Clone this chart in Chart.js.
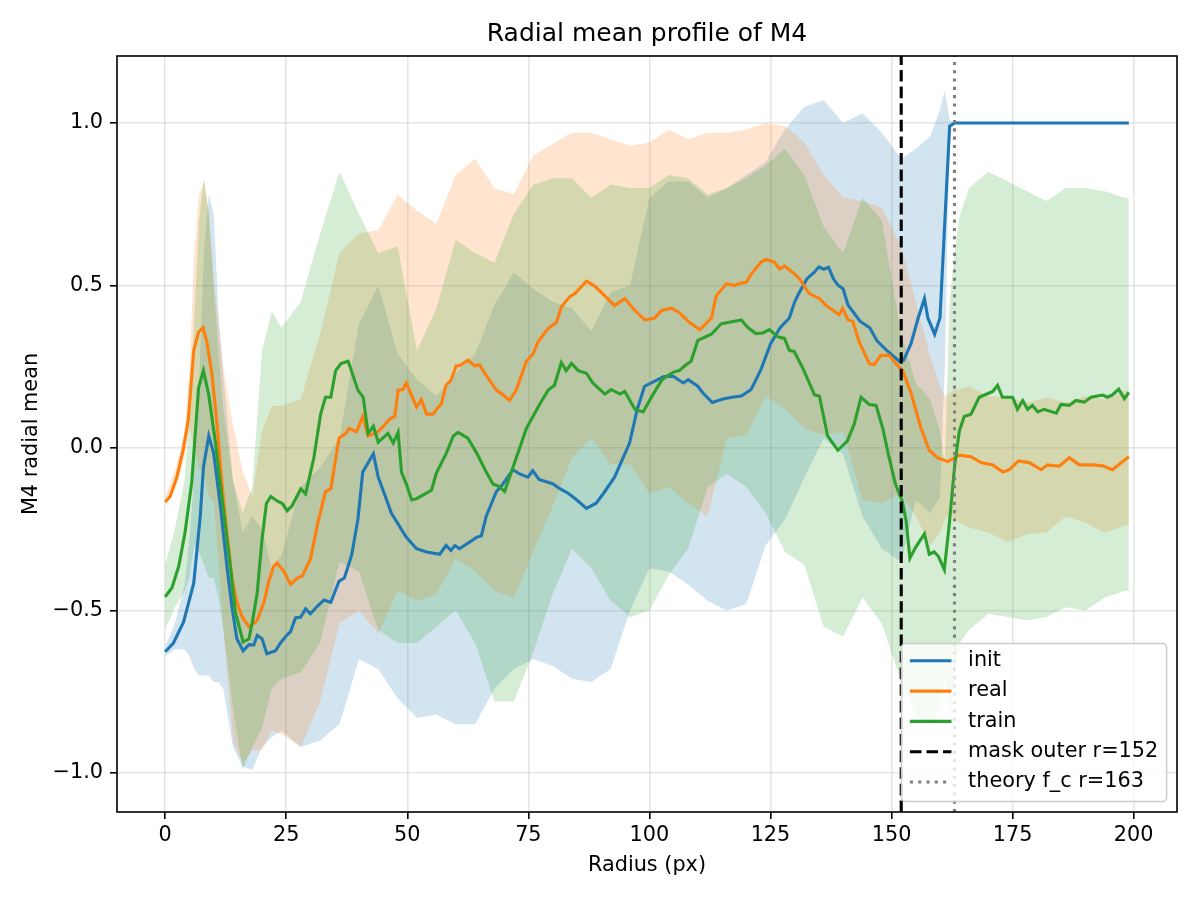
<!DOCTYPE html>
<html>
<head>
<meta charset="utf-8">
<title>Radial mean profile of M4</title>
<script src="https://cdn.jsdelivr.net/npm/chart.js@4.4.0/dist/chart.umd.min.js"></script>
<style>
  html, body { margin: 0; padding: 0; background: #fff; }
  #wrap { width: 1200px; height: 900px; }
</style>
</head>
<body>
<div id="wrap"><canvas id="radialChart" width="1200" height="900"></canvas></div>
<script>
// Datos
const chartTitle = 'Radial mean profile of M4';
const xTicks = [0, 25, 50, 75, 100, 125, 150, 175, 200];
const yTicks = [-1.0, -0.5, 0.0, 0.5, 1.0];
const xMin = -9.95, xMax = 208.95;
const yMin = -1.12, yMax = 1.206;
const maskRadius = 152;
const theoryRadius = 163;

// init (media)
const blueRadius = [0,1.7,3.8,5.9,7.25,7.9,9,10,11.4,12.8,13.8,14.8,16.1,17.3,18.3,19,20,21,22.8,23.8,25.2,25.9,26.9,28,29,30,31.4,32.8,34.2,35.9,37,38.5,39.8,40.8,43,44,45,46.7,49.8,51.9,54,56.7,58,59,59.8,60.8,64.3,65.3,66.3,68.4,69.8,71.8,73.2,74.9,75.9,77.2,80,81.6,83.3,85,87,89,90.5,92.8,95.9,97.5,99,101,103,105,107,108,110,111,113,115,117,119,121,123,125,127,128.9,130,131,132.5,134,135,136,137,138,139,140,141,142,143.5,145.5,147,149,151.6,152.5,154,155.5,156.8,157.5,158.9,160,162,163,199];
const blueMean = [-0.627,-0.6,-0.535,-0.416,-0.208,-0.06,0.037,-0.015,-0.178,-0.371,-0.49,-0.587,-0.624,-0.605,-0.606,-0.577,-0.587,-0.633,-0.624,-0.6,-0.575,-0.565,-0.523,-0.52,-0.495,-0.51,-0.487,-0.468,-0.475,-0.41,-0.4,-0.33,-0.22,-0.074,-0.018,-0.09,-0.13,-0.2,-0.275,-0.31,-0.32,-0.327,-0.3,-0.315,-0.3,-0.31,-0.275,-0.27,-0.21,-0.134,-0.11,-0.067,-0.08,-0.09,-0.07,-0.097,-0.11,-0.126,-0.14,-0.16,-0.186,-0.17,-0.14,-0.09,0.015,0.12,0.19,0.205,0.22,0.22,0.2,0.21,0.19,0.17,0.14,0.15,0.156,0.16,0.18,0.24,0.32,0.37,0.4,0.45,0.48,0.52,0.54,0.557,0.55,0.556,0.52,0.5,0.49,0.44,0.42,0.39,0.37,0.33,0.3,0.267,0.27,0.32,0.4,0.46,0.4,0.35,0.4,0.99,1.0,1.0];

// real (media)
const orangeRadius = [0,1,2.4,3.8,4.8,5.9,6.9,7.8,8.6,9.7,10.7,11.7,12.8,13.8,14.8,15.9,17.3,18.3,19,20.4,21.4,22.4,23.1,24.5,25.9,27.3,28.3,30,31.4,33.1,34.2,35.9,37.3,38,39.5,40.8,41.9,44,46.4,47.4,48.1,49.1,49.8,51.9,52.9,54,55.3,56.4,57,58,59,60.1,60.8,62.5,63.9,64.9,66.3,68.4,69.8,71.1,72.5,74.6,76,77,79.1,80.8,81.8,83.5,84.6,87,88.7,90.8,92.8,94.9,97,99,101.1,102.5,104.5,106.2,108.3,110.4,112.8,113.8,115.9,117.6,119,120,121,123.1,124.1,125.8,126.9,127.9,130,131,133,135.1,136.5,139.2,139.9,141,142,143.3,145.4,146.4,147.8,149.5,150.9,152.3,154,156.1,157.8,159.5,161.6,164,166.4,168.5,170.9,173,174.3,176.2,178.4,180.9,182.2,184.6,186.7,188.8,191.5,193.6,195.6,199];
const orangeMean = [-0.166,-0.15,-0.09,0.0,0.09,0.3,0.357,0.37,0.327,0.223,0.074,-0.104,-0.267,-0.4,-0.475,-0.52,-0.55,-0.54,-0.53,-0.475,-0.41,-0.364,-0.354,-0.379,-0.42,-0.4,-0.394,-0.342,-0.238,-0.134,-0.126,0.03,0.045,0.06,0.05,0.097,0.037,0.05,0.089,0.097,0.178,0.18,0.2,0.126,0.149,0.104,0.104,0.126,0.134,0.193,0.208,0.253,0.253,0.27,0.253,0.256,0.223,0.178,0.163,0.146,0.178,0.267,0.29,0.327,0.368,0.386,0.434,0.465,0.475,0.513,0.498,0.468,0.438,0.46,0.423,0.394,0.4,0.423,0.43,0.416,0.386,0.364,0.4,0.468,0.505,0.5,0.508,0.51,0.535,0.572,0.58,0.572,0.55,0.56,0.535,0.52,0.475,0.46,0.438,0.41,0.43,0.394,0.39,0.327,0.26,0.256,0.285,0.285,0.26,0.238,0.17,0.06,-0.007,-0.03,-0.042,-0.022,-0.027,-0.045,-0.052,-0.074,-0.067,-0.04,-0.045,-0.067,-0.052,-0.056,-0.03,-0.052,-0.052,-0.055,-0.067,-0.027];

// train (media)
const greenRadius = [0,1.4,2.8,4.1,5.5,6.9,7.9,9,10.4,11.7,13.5,14.5,16.1,17.3,18,19,20,20.9,21.8,23.1,24.2,25.2,26.2,28,29,30.7,32.1,33.1,34.2,35.2,36.3,37.8,39.8,40.9,41.9,43,44,46,47.1,48.1,48.8,49.8,50.9,51.9,55,56,58.1,59.5,60.5,62.5,64.3,66.3,67.7,69,70.1,71.5,72.5,74.6,77.3,79.1,80.4,81.8,82.8,83.9,85.3,87,88.3,90.8,92.1,93.9,94.9,97,98.7,100.4,102.5,103.8,105.2,106.2,107.3,108.6,110,112.8,114.8,116.2,119,120.3,122,123.4,124.8,126.5,127.9,128.9,129.9,131.7,134.1,135.1,136.8,138.9,140.9,142.3,143.7,145.4,146.8,148.2,149.5,150.8,152.2,153,153.8,155,156.8,157.8,158.8,159.7,160.9,161.9,163,164,165,166.4,168.1,170.9,171.9,172.9,175,176,177.1,178.1,179.1,180.2,181.5,184,185,186.7,188.1,189.8,191.2,193.6,194.6,195.6,196.9,198.1,199];
const greenMean = [-0.458,-0.43,-0.364,-0.26,-0.104,0.186,0.238,0.163,0.015,-0.149,-0.371,-0.505,-0.597,-0.587,-0.535,-0.446,-0.282,-0.171,-0.149,-0.163,-0.171,-0.193,-0.178,-0.126,-0.141,-0.03,0.104,0.156,0.156,0.238,0.26,0.267,0.178,0.156,0.045,0.067,0.018,0.045,0.015,0.048,-0.074,-0.111,-0.16,-0.156,-0.13,-0.077,-0.015,0.037,0.048,0.03,-0.015,-0.074,-0.111,-0.119,-0.134,-0.074,-0.03,0.06,0.134,0.178,0.193,0.263,0.238,0.26,0.238,0.23,0.2,0.166,0.18,0.166,0.174,0.119,0.111,0.156,0.208,0.223,0.235,0.238,0.253,0.267,0.331,0.35,0.382,0.386,0.394,0.371,0.352,0.354,0.364,0.342,0.337,0.3,0.297,0.245,0.163,0.16,0.037,-0.007,0.022,0.074,0.156,0.134,0.131,0.06,-0.03,-0.111,-0.163,-0.223,-0.339,-0.305,-0.264,-0.327,-0.32,-0.334,-0.374,-0.238,-0.059,0.052,0.097,0.104,0.156,0.174,0.193,0.156,0.156,0.119,0.146,0.119,0.131,0.111,0.119,0.107,0.134,0.131,0.146,0.141,0.156,0.163,0.156,0.163,0.181,0.152,0.171];

// Bandas (media +/- desviacion)
const bandRadius = [0,2,4,5,6,7,8,9,10,11,12,14,16,18,20,22,24,28,32,36,40,44,48,52,56,60,64,68,72,76,80,84,88,92,96,100,104,108,112,116,120,124,128,132,136,140,144,148,152,155,158,160,161,162,163,164,166,170,174,178,182,186,190,194,198,199];
const blueHigh = [-0.61,-0.54,-0.42,-0.28,-0.08,0.2,0.6,0.78,0.72,0.42,0.22,-0.1,-0.26,-0.21,-0.25,-0.37,-0.33,-0.12,-0.06,0.03,0.38,0.5,0.29,0.21,0.16,0.23,0.29,0.44,0.54,0.49,0.45,0.43,0.36,0.48,0.5,0.77,0.82,0.82,0.77,0.8,0.84,0.88,0.98,1.05,1.07,1.0,1.03,0.97,0.89,0.92,0.96,1.04,1.1,1.01,1.0,1.0,1.0,1.0,1.0,1.0,1.0,1.0,1.0,1.0,1.0,1.0];
const blueLow = [-0.64,-0.62,-0.62,-0.64,-0.68,-0.7,-0.7,-0.7,-0.72,-0.72,-0.74,-0.92,-0.98,-0.99,-0.92,-0.89,-0.87,-0.92,-0.9,-0.85,-0.65,-0.68,-0.77,-0.83,-0.82,-0.85,-0.85,-0.74,-0.68,-0.65,-0.67,-0.71,-0.72,-0.68,-0.5,-0.37,-0.38,-0.42,-0.47,-0.5,-0.48,-0.3,-0.22,-0.09,0.03,-0.02,-0.21,-0.31,-0.35,-0.16,-0.2,-0.15,0.25,0.99,1.0,1.0,1.0,1.0,1.0,1.0,1.0,1.0,1.0,1.0,1.0,1.0];
const orangeHigh = [-0.15,-0.07,0.05,0.24,0.6,0.78,0.82,0.73,0.52,0.38,0.25,0.07,-0.07,-0.15,0.05,0.13,0.13,0.15,0.35,0.6,0.66,0.67,0.78,0.73,0.69,0.84,0.89,0.8,0.78,0.9,0.936,0.97,0.97,0.95,0.93,0.94,0.98,0.95,0.97,0.97,0.98,1.0,0.99,0.94,0.84,0.77,0.76,0.74,0.62,0.45,0.28,0.19,0.16,0.17,0.18,0.18,0.19,0.16,0.155,0.14,0.155,0.14,0.16,0.15,0.175,0.175];
const orangeLow = [-0.18,-0.13,-0.03,0.06,0.0,-0.06,-0.08,-0.15,-0.16,-0.34,-0.55,-0.9,-0.97,-0.93,-0.93,-0.87,-0.88,-0.92,-0.78,-0.54,-0.5,-0.57,-0.44,-0.47,-0.45,-0.34,-0.38,-0.44,-0.46,-0.32,-0.18,-0.03,0.03,-0.05,-0.05,-0.14,-0.12,-0.17,-0.21,0.03,0.04,0.16,0.12,0.06,0.04,0.05,-0.16,-0.17,-0.14,-0.21,-0.3,-0.26,-0.22,-0.2,-0.22,-0.23,-0.245,-0.26,-0.29,-0.265,-0.26,-0.21,-0.23,-0.26,-0.24,-0.235];
const greenHigh = [-0.36,-0.25,-0.1,0.1,0.4,0.7,0.83,0.72,0.5,0.3,0.12,-0.1,-0.2,-0.12,0.3,0.42,0.37,0.45,0.66,0.85,0.72,0.6,0.62,0.3,0.43,0.64,0.6,0.57,0.72,0.81,0.83,0.83,0.77,0.81,0.8,0.8,0.84,0.83,0.78,0.8,0.83,0.87,0.92,0.84,0.68,0.6,0.77,0.7,0.35,0.2,0.15,0.05,-0.05,0.45,0.6,0.71,0.8,0.85,0.82,0.79,0.76,0.8,0.8,0.79,0.77,0.77];
const greenLow = [-0.56,-0.49,-0.44,-0.4,-0.3,-0.32,-0.36,-0.4,-0.4,-0.46,-0.56,-0.8,-0.99,-0.92,-0.86,-0.74,-0.71,-0.69,-0.6,-0.35,-0.38,-0.56,-0.6,-0.6,-0.55,-0.5,-0.6,-0.78,-0.78,-0.63,-0.45,-0.31,-0.37,-0.47,-0.52,-0.5,-0.39,-0.31,-0.12,-0.08,-0.12,-0.2,-0.32,-0.36,-0.55,-0.58,-0.46,-0.54,-0.72,-0.82,-0.85,-0.8,-0.7,-0.82,-0.72,-0.6,-0.56,-0.51,-0.52,-0.53,-0.52,-0.49,-0.5,-0.46,-0.44,-0.44];

const FONT = 'DejaVu Sans';
const BLUE = '#1f77b4', ORANGE = '#ff7f0e', GREEN = '#2ca02c';

const pts = (xs, ys) => xs.map((x, i) => ({ x: x, y: ys[i] }));

function banda(ys, order) {
    return { data: pts(bandRadius, ys), borderWidth: 0, pointRadius: 0, fill: false, order: order };
}
function bandaInferior(ys, color, order) {
    return { data: pts(bandRadius, ys), borderWidth: 0, pointRadius: 0, fill: '-1', backgroundColor: color, order: order };
}
function linea(label, xs, ys, color, order) {
    return { label: label, inLegend: true, data: pts(xs, ys), borderColor: color, borderWidth: 3.1,
             pointRadius: 0, fill: false, tension: 0, order: order };
}

// Decoracion estilo matplotlib: titulo, marco y leyenda
const mplDecor = {
    id: 'mplDecor',
    afterDraw(chart) {
        const ctx = chart.ctx;
        const ca = chart.chartArea;
        ctx.save();
        ctx.fillStyle = '#000';
        ctx.font = '25px "' + FONT + '"';
        ctx.textAlign = 'center';
        ctx.textBaseline = 'middle';
        ctx.fillText(chartTitle, (ca.left + ca.right) / 2, ca.top - 22);

        ctx.strokeStyle = '#000';
        ctx.lineWidth = 1.6;
        ctx.setLineDash([]);
        ctx.strokeRect(ca.left, ca.top, ca.right - ca.left, ca.bottom - ca.top);

        const fs = 20.8;
        ctx.font = fs + 'px "' + FONT + '"';
        const items = chart.data.datasets.filter(d => d.inLegend);
        const maxW = Math.max(...items.map(d => ctx.measureText(d.label).width));
        const pad = 0.4 * fs, handle = 2 * fs, gap = 0.8 * fs, rowH = 30.3;
        const w = pad + handle + gap + maxW + pad;
        const h = 158;
        const x0 = ca.right - 0.5 * fs - w;
        const y0 = ca.bottom - 0.5 * fs - h;
        const r = 4;
        ctx.beginPath();
        ctx.moveTo(x0 + r, y0);
        ctx.lineTo(x0 + w - r, y0);
        ctx.arcTo(x0 + w, y0, x0 + w, y0 + r, r);
        ctx.lineTo(x0 + w, y0 + h - r);
        ctx.arcTo(x0 + w, y0 + h, x0 + w - r, y0 + h, r);
        ctx.lineTo(x0 + r, y0 + h);
        ctx.arcTo(x0, y0 + h, x0, y0 + h - r, r);
        ctx.lineTo(x0, y0 + r);
        ctx.arcTo(x0, y0, x0 + r, y0, r);
        ctx.closePath();
        ctx.fillStyle = 'rgba(255,255,255,0.8)';
        ctx.fill();
        ctx.strokeStyle = '#cccccc';
        ctx.lineWidth = 1.5;
        ctx.stroke();

        items.forEach((d, i) => {
            const cy = y0 + 17.2 + i * rowH;
            ctx.beginPath();
            ctx.strokeStyle = d.borderColor;
            ctx.lineWidth = d.borderWidth;
            ctx.setLineDash(d.borderDash || []);
            ctx.moveTo(x0 + pad, cy);
            ctx.lineTo(x0 + pad + handle, cy);
            ctx.stroke();
            ctx.setLineDash([]);
            ctx.fillStyle = '#000';
            ctx.textAlign = 'left';
            ctx.textBaseline = 'middle';
            ctx.fillText(d.label, x0 + pad + handle + gap, cy);
        });
        ctx.restore();
    }
};

const tickFont = { family: FONT, size: 20.8 };
const gridCfg = { color: 'rgba(176,176,176,0.32)', lineWidth: 1.6, drawTicks: true,
                  tickLength: 7, tickColor: '#000', tickWidth: 1.6 };

const ctxRadial = document.getElementById('radialChart').getContext('2d');
new Chart(ctxRadial, {
    type: 'line',
    data: {
        datasets: [
            banda(blueHigh, 12),
            bandaInferior(blueLow, 'rgba(31,119,180,0.2)', 12),
            banda(orangeHigh, 11),
            bandaInferior(orangeLow, 'rgba(255,127,14,0.2)', 11),
            banda(greenHigh, 10),
            bandaInferior(greenLow, 'rgba(44,160,44,0.2)', 10),
            linea('init', blueRadius, blueMean, BLUE, 3),
            linea('real', orangeRadius, orangeMean, ORANGE, 2),
            linea('train', greenRadius, greenMean, GREEN, 1),
            { label: 'mask outer r=' + maskRadius, inLegend: true,
              data: [{ x: maskRadius, y: yMin }, { x: maskRadius, y: yMax }],
              borderColor: '#000', borderWidth: 3.1, borderDash: [11.6, 5], pointRadius: 0, fill: false, order: 0 },
            { label: 'theory f_c r=' + theoryRadius, inLegend: true,
              data: [{ x: theoryRadius, y: yMin }, { x: theoryRadius, y: yMax }],
              borderColor: '#808080', borderWidth: 3.1, borderDash: [3.1, 5.2], pointRadius: 0, fill: false, order: 0 }
        ]
    },
    options: {
        responsive: false,
        animation: false,
        devicePixelRatio: 1,
        events: [],
        layout: { padding: { top: 56, right: 23, bottom: 0, left: 0 } },
        plugins: {
            legend: { display: false },
            title: { display: false },
            tooltip: { enabled: false }
        },
        scales: {
            x: {
                type: 'linear',
                min: xMin,
                max: xMax,
                afterBuildTicks: s => { s.ticks = xTicks.map(v => ({ value: v })); },
                afterFit: s => { s.height = 88; },
                ticks: { font: tickFont, color: '#000', padding: 4, maxRotation: 0,
                         callback: v => String(v) },
                grid: gridCfg,
                border: { display: false },
                title: { display: true, text: 'Radius (px)', font: tickFont, color: '#000',
                         padding: { top: 0, bottom: 22 } }
            },
            y: {
                type: 'linear',
                min: yMin,
                max: yMax,
                afterBuildTicks: s => { s.ticks = yTicks.map(v => ({ value: v })); },
                afterFit: s => { s.width = 117; },
                ticks: { font: tickFont, color: '#000', padding: 7,
                         callback: v => v.toFixed(1).replace('-', '\u2212') },
                grid: gridCfg,
                border: { display: false },
                title: { display: true, text: 'M4 radial mean', font: tickFont, color: '#000',
                         padding: { top: 19.5, bottom: 0 } }
            }
        }
    },
    plugins: [mplDecor]
});
</script>
</body>
</html>
